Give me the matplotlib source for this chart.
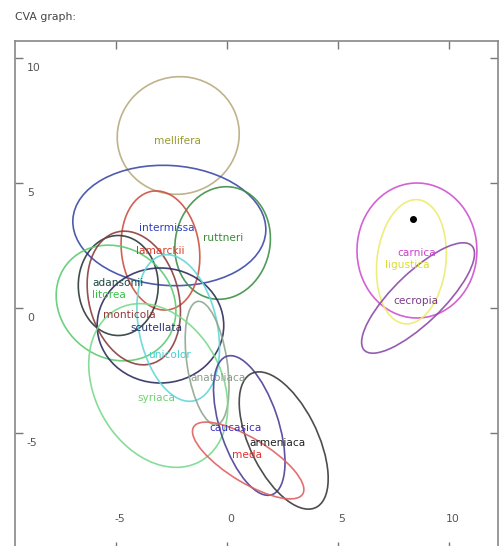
import matplotlib
matplotlib.use("Agg")
import matplotlib.pyplot as plt
from matplotlib.patches import Ellipse

# ---- data ----
groups = ["mellifera", "intermissa", "ruttneri", "lamarckii", "adansonii", "litorea",
          "monticola", "scutellata", "unicolor", "anatoliaca", "syriaca", "caucasica",
          "armeniaca", "meda", "carnica", "ligustica", "cecropia"]
center_x = [-2.2, -2.6, -0.2, -3.0, -4.9, -5.0, -4.2, -3.0, -2.2, -0.9, -3.1, 1.0,
            2.55, 0.95, 8.55, 8.3, 8.6]
center_y = [6.9, 3.3, 2.6, 2.3, 0.9, 0.2, 0.4, -0.7, -0.8, -2.2, -3.1, -4.7,
            -5.3, -6.1, 2.3, 1.85, 0.4]
ell_width = [5.5, 8.7, 4.2, 3.5, 3.6, 5.5, 4.0, 5.7, 3.5, 1.8, 5.5, 5.9,
             6.1, 5.6, 5.4, 3.1, 6.4]
ell_height = [4.7, 4.8, 4.6, 4.8, 4.0, 4.5, 5.5, 4.6, 6.0, 5.0, 7.2, 2.6,
              3.0, 1.8, 5.4, 5.0, 2.1]
ell_angle = [5, -3, -30, 10, 0, -20, 20, 0, 15, 10, 40, -69,
             -60, -28, 20, -8, 40]
label_x = [-2.25, -2.7, -0.2, -3.0, -4.9, -5.3, -4.4, -3.2, -2.6, -0.4, -3.2, 0.4,
           2.25, 0.9, 8.55, 8.1, 8.5]
label_y = [6.7, 3.2, 2.8, 2.3, 1.0, 0.5, -0.3, -0.8, -1.9, -2.8, -3.6, -4.8,
           -5.4, -5.9, 2.2, 1.7, 0.3]
point_x = [8.38]
point_y = [3.56]
xticks = [-5, 0, 5, 10]
yticks = [-5, 0, 5, 10]
title = "CVA graph:"

edge_colors = ["#b8ab7e", "#3b4aa6", "#3f8f46", "#cc5040", "#2c3a3a", "#5ccc70",
               "#8a3e3e", "#2c2c5e", "#5fd8d8", "#8fa58f", "#7ada8c", "#4a3f9a",
               "#3a3a3a", "#e06060", "#d050d0", "#ecec70", "#8a4aa8"]
text_colors = ["#9a9a30", "#2f40c0", "#3a8a3a", "#dd3a2a", "#1c4a44", "#3ac04a",
               "#903a3a", "#2a3470", "#40d0d0", "#8a9a8a", "#70d070", "#4030c0",
               "#222222", "#e03030", "#cc40cc", "#dddd30", "#7a3a8a"]

# ---- figure ----
W, H = 503, 546
fig = plt.figure(figsize=(W / 100, H / 100), dpi=100)
left_px, right_px, top_px, bottom_px = 15, 498, 41, 550
ax = fig.add_axes([left_px / W, 1 - bottom_px / H, (right_px - left_px) / W,
                   (bottom_px - top_px) / H])
ax.set_xlim(-9.55, 12.2)
ax.set_ylim(-9.68, 10.68)

for s in ax.spines.values():
    s.set_color("#888888")
    s.set_linewidth(1.2)

ax.set_xticks(xticks)
ax.set_yticks(yticks)
ax.tick_params(direction="in", length=6, width=1, color="#777777",
               top=True, right=True, labelbottom=False, labelleft=False)

for v in yticks:
    ax.annotate(str(v), xy=(0, v), xycoords=("axes fraction", "data"),
                xytext=(8.5, -7), textcoords="offset points",
                ha="left", va="center", fontsize=7.8, color="#555555")
for v in xticks:
    ax.annotate(str(v), xy=(v, 0), xycoords=("data", "axes fraction"),
                xytext=(2.5, 22), textcoords="offset points",
                ha="center", va="center", fontsize=7.8, color="#555555")

for i, g in enumerate(groups):
    e = Ellipse((center_x[i], center_y[i]), ell_width[i], ell_height[i],
                angle=ell_angle[i], fill=False, edgecolor=edge_colors[i],
                linewidth=1.2, alpha=0.9)
    ax.add_patch(e)
for i, g in enumerate(groups):
    ax.text(label_x[i], label_y[i], g, color=text_colors[i], fontsize=7.6,
            ha="center", va="center")

ax.plot(point_x, point_y, "o", color="black", markersize=4)

fig.text(15 / W, 1 - 17 / H, title, ha="left", va="center", fontsize=7.8,
         color="#444444")

fig.savefig("out.png", dpi=100)
